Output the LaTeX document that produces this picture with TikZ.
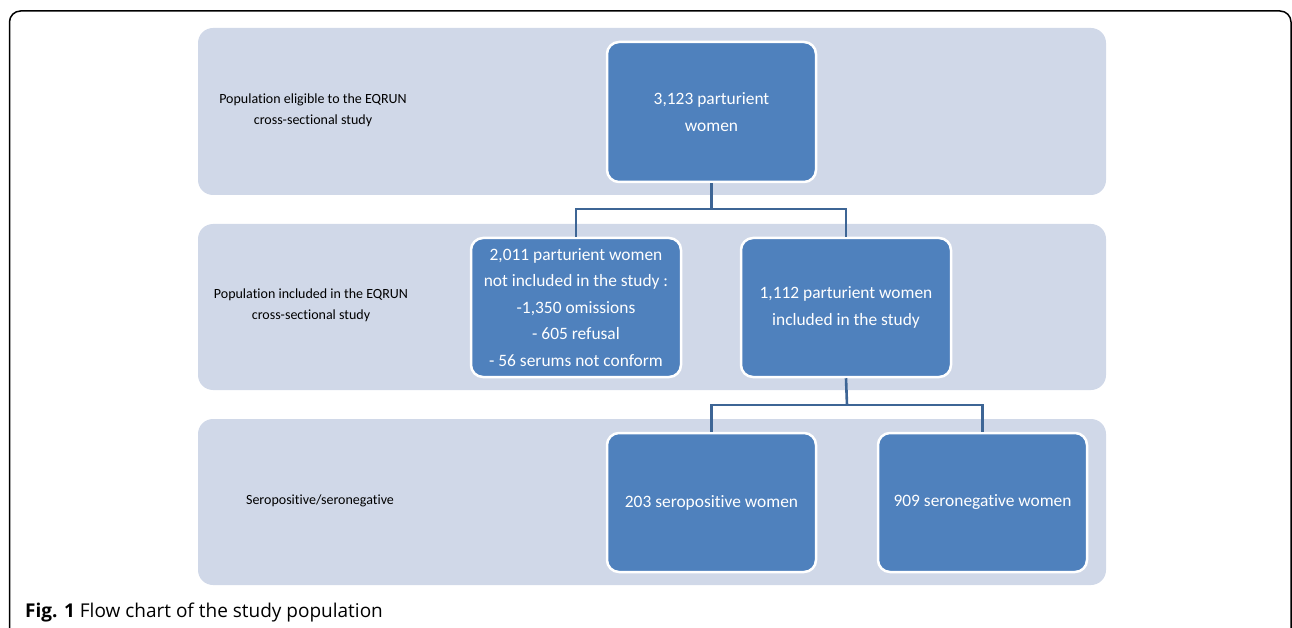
\documentclass[tikz,border=0pt]{standalone}
\usepackage{fontspec}
\setmainfont{Carlito}[Ligatures=NoCommon]
\newfontfamily\capfont{Open Sans}
\definecolor{bandfill}{HTML}{D0D8E8}
\definecolor{boxfill}{HTML}{4F81BD}
\definecolor{linkcol}{HTML}{3D6595}
\begin{document}
\begin{tikzpicture}[x=1pt,y=-1pt,
  band/.style={fill=bandfill,draw=none,rounded corners=15pt},
  bluebox/.style={draw=white,line width=2.5pt,fill=boxfill,rounded corners=12pt,text=white,align=center,
     font=\fontsize{17.4}{26.5}\selectfont,inner sep=0pt},
  bandlabel/.style={align=center,font=\fontsize{14}{21}\selectfont,text=black},
  link/.style={draw=linkcol,line width=2.6pt}]
\useasboundingbox (0,0) rectangle (1292,628);
\begin{scope}
\clip (0,0) rectangle (1292,628);
\draw[line width=1.5pt,rounded corners=11pt] (9.5,660) -- (9.5,11) -- (1291,11) -- (1291,660);
\end{scope}
% bands
\path[band] (198,28) rectangle (1106,195);
\path[band] (198,224) rectangle (1106,390);
\path[band] (198,419) rectangle (1106,585);
% band labels
\node[bandlabel] (l1) at (313,110) {Population eligible to the EQRUN\\cross-sectional study};
\node[bandlabel] (l2) at (311,305) {Population included in the EQRUN\\cross-sectional study};
\node[bandlabel] (l3) at (320,501) {Seropositive/seronegative};
% boxes
\node[bluebox,minimum width=209pt,minimum height=140pt] (a) at (711.5,112) {3,123 parturient\\women};
\node[bluebox,minimum width=210pt,minimum height=139pt] (b) at (576,307.5) {2,011 parturient women\\not included in the study :\\-1,350 omissions\\- 605 refusal\\- 56 serums not conform};
\node[bluebox,minimum width=210pt,minimum height=139pt] (c) at (846,307.5) {1,112 parturient women\\included in the study};
\node[bluebox,minimum width=209pt,minimum height=139pt] (d) at (711.5,502.5) {203 seropositive women};
\node[bluebox,minimum width=209pt,minimum height=139pt] (e) at (982.5,502.5) {909 seronegative women};
% connectors
\coordinate (j1) at (711.5,209);
\coordinate (j2) at (847,405);
\draw[link] (a.south) -- (j1);
\draw[link] (b.north) -- (b.north |- j1) -- (c.north |- j1) -- (c.north);
\draw[link] (c.south) -- (j2);
\draw[link] (d.north) -- (d.north |- j2) -- (e.north |- j2) -- (e.north);
% caption
\node[anchor=base west,inner sep=0pt,font=\capfont\fontsize{19}{22}\selectfont] (cap) at (25,617) {\textbf{Fig. 1} Flow chart of the study population};
\end{tikzpicture}
\end{document}
